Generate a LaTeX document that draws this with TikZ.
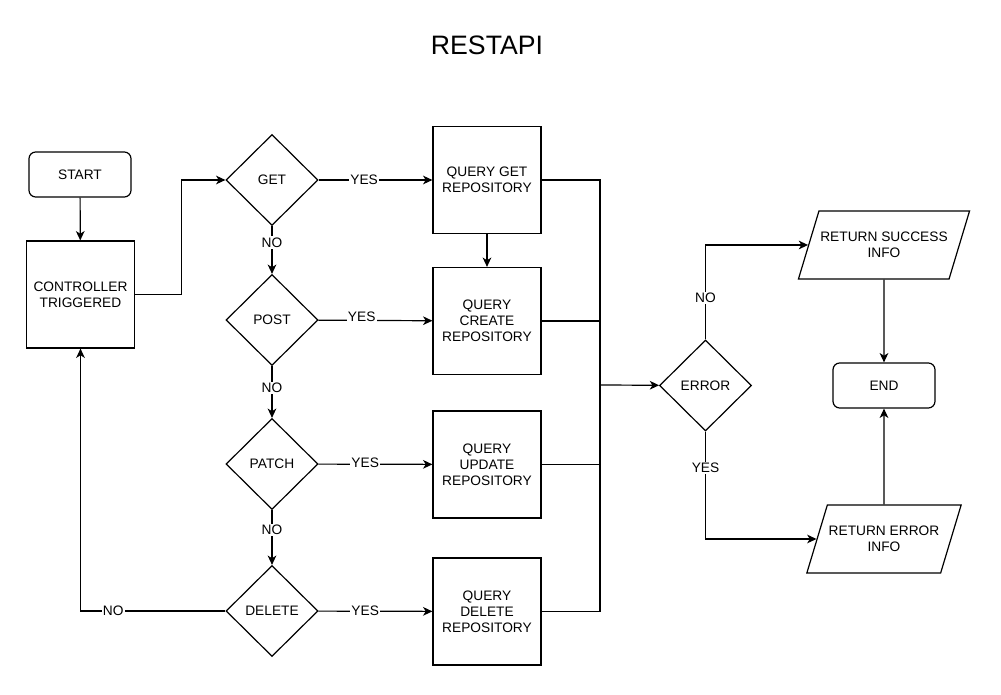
\documentclass[tikz,border=0pt]{standalone}
\usepackage{fontspec}
\setmainfont{Liberation Sans}
\usepackage{tikz}
\usetikzlibrary{shapes.geometric, arrows.meta}

\begin{document}
\begin{tikzpicture}[x=0.75pt, y=-0.75pt, font=\fontsize{10.3}{12}\selectfont,
    proc/.style={draw, line width=0.9pt, minimum width=81pt, minimum height=80.25pt, align=center, inner sep=1pt},
    term/.style={draw, line width=0.9pt, rounded corners=5pt, minimum width=76.5pt, minimum height=33.75pt, align=center},
    decide/.style={draw, line width=0.9pt, diamond, minimum width=69pt, minimum height=68.25pt, inner sep=0pt},
    io/.style={draw, line width=0.9pt, trapezium, trapezium left angle=73, trapezium right angle=107, trapezium stretches body=true, minimum width=126pt, minimum height=51pt, align=center, inner xsep=1pt, inner ysep=15.5pt},
    conn/.style={line width=0.9pt, -{Stealth[length=7pt, width=6.5pt, inset=2pt]}},
    wire/.style={line width=0.9pt},
    lbl/.style={fill=white, inner sep=1pt}]
    \useasboundingbox (0,0) rectangle (1001,695);
    \node (title) at (487,45) {\fontsize{20}{24}\selectfont RESTAPI};
    % left column
    \node[term] (start) at (80,174.5) {START};
    \node[proc] (ctrl) at (80.5,294.5) {CONTROLLER\\TRIGGERED};
    % methods
    \node[decide] (get) at (272,180) {GET};
    \node[decide] (post) at (272,320) {POST};
    \node[decide] (patch) at (272,464) {PATCH};
    \node[decide] (del) at (272,611) {DELETE};
    % queries
    \node[proc] (qget) at (487,180) {QUERY GET\\REPOSITORY};
    \node[proc] (qcreate) at (487,321) {QUERY\\CREATE\\REPOSITORY};
    \node[proc] (qupdate) at (487,464.5) {QUERY\\UPDATE\\REPOSITORY};
    \node[proc] (qdel) at (487,611.5) {QUERY\\DELETE\\REPOSITORY};
    \coordinate (bus) at (600,385);
    % right side
    \node[decide] (err) at (705.5,385.5) {ERROR};
    \node[io] (succ) at (884,245) {RETURN SUCCESS\\INFO};
    \node[term] (end) at (884,385.5) {END};
    \node[io, minimum width=114pt] (fail) at (884,539) {RETURN ERROR\\INFO};

    \draw[conn] (start) -- (ctrl);
    \draw[conn] (ctrl.east) -- ++(46,0) |- (get);
    \draw[conn] (get) -- (post) node[lbl, pos=0.34] (n1) {NO};
    \draw[conn] (post) -- (patch) node[lbl, pos=0.42] (n2) {NO};
    \draw[conn] (patch) -- (del) node[lbl, pos=0.36] (n3) {NO};
    \draw[conn] (del.west) -| (ctrl.south) node[lbl, pos=0.387] (n4) {NO};
    \draw[conn] (get) -- (qget) node[lbl, pos=0.4] (y1) {YES};
    \draw[conn] (post) -- (qcreate) node[lbl, pos=0.38, yshift=3pt] (y2) {YES};
    \draw[conn] (patch) -- (qupdate) node[lbl, pos=0.41, yshift=1pt] (y3) {YES};
    \draw[conn] (del) -- (qdel) node[lbl, pos=0.41] (y4) {YES};
    \draw[conn] (qget) -- (qcreate);
    \draw[wire] (qget.east) -| (bus);
    \draw[wire] (qcreate.east) -| (bus);
    \draw[wire] (qupdate.east) -| (bus);
    \draw[wire] (qdel.east) -| (bus);
    \draw[conn] (bus) -- (err);
    \draw[conn] (err.north) |- (succ) node[lbl, pos=0.22] (n5) {NO};
    \draw[conn] (err.south) |- (fail) node[lbl, pos=0.17] (y5) {YES};
    \draw[conn] (succ) -- (end);
    \draw[conn] (fail) -- (end);
\end{tikzpicture}
\end{document}
